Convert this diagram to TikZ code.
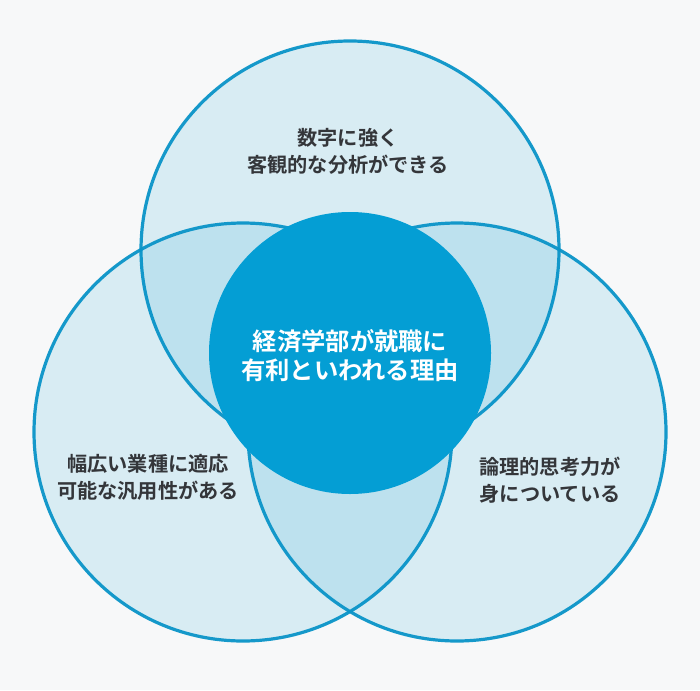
\documentclass[tikz,border=0pt]{standalone}
\usepackage{fontspec}
\setmainfont{Noto Sans CJK JP}[BoldFont={Noto Sans CJK JP Bold}]
\definecolor{bgc}{RGB}{247,248,249}
\definecolor{ringc}{RGB}{10,148,200}
\definecolor{fillc}{RGB}{0,150,205}
\definecolor{corec}{RGB}{4,158,212}
\definecolor{txtc}{RGB}{52,54,58}
\begin{document}
\begin{tikzpicture}[x=1pt,y=-1pt,
  ring/.style={circle, inner sep=0pt, minimum size=418pt, fill=fillc, fill opacity=0.12, draw=ringc, draw opacity=0.95, line width=3.2pt},
  core/.style={circle, inner sep=0pt, minimum size=282pt, fill=corec},
  lbl/.style={text=txtc, font=\fontsize{20.2}{27}\selectfont\bfseries, align=center, inner sep=0pt},
  corelbl/.style={text=white, font=\fontsize{24.3}{29}\selectfont\bfseries, align=center, inner sep=0pt}]
\fill[bgc] (0,0) rectangle (700,690);
\useasboundingbox (0,0) rectangle (700,690);
\node[ring] (topc) at (350,250) {};
\node[ring] (leftc) at (243,432) {};
\node[ring] (rightc) at (457,432) {};
\node[core] (corec) at (350,353) {};
\node[corelbl] (coret) at (350,355.5) {経済学部が就職に\\有利といわれる理由};
\node[lbl] (topt) at (348,151.5) {数字に強く\\客観的な分析ができる};
\node[lbl] (leftt) at (148,477) {幅広い業種に適応\\可能な汎用性がある};
\node[lbl] (rightt) at (550,480.5) {論理的思考力が\\身についている};
\end{tikzpicture}
\end{document}
